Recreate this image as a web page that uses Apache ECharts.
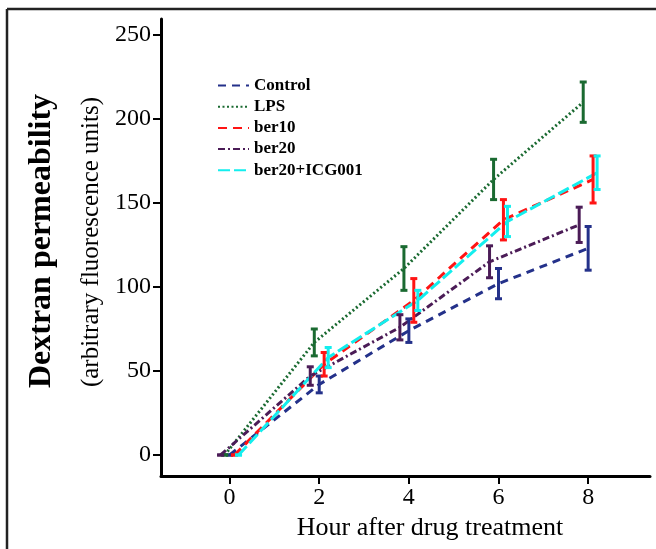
<!DOCTYPE html>
<html>
<head>
<meta charset="utf-8">
<script src="https://cdn.jsdelivr.net/npm/echarts@6/dist/echarts.min.js"></script>
<style>
  html, body { margin: 0; padding: 0; background: #fff; }
  #chart-container { width: 656px; height: 549px; }
</style>
</head>
<body>
<div id="chart-container"></div>
<script>
// data
var hours = [0, 2, 4, 6, 8];
var seriesNames = ['Control', 'LPS', 'ber10', 'ber20', 'ber20+ICG001'];
var controlMean = [0, 42, 74, 102, 123];
var controlErr  = [0, 5, 7, 9, 13];
var lpsMean     = [0, 67, 111, 164, 210];
var lpsErr      = [0, 8, 13, 12, 12];
var ber10Mean   = [0, 54, 92, 140, 164];
var ber10Err    = [0, 7, 13, 12, 14];
var ber20Mean   = [0, 47, 76, 115, 137];
var ber20Err    = [0, 5.5, 7.5, 9.5, 10.5];
var icgMean     = [0, 58, 92, 139, 168];
var icgErr      = [0, 6, 6, 9, 10];
var yTicks = [0, 50, 100, 150, 200, 250];
var xTicks = [0, 2, 4, 6, 8];

var dom = document.getElementById('chart-container');
var myChart = echarts.init(dom, null, { renderer: 'canvas' });

var font = 'Liberation Serif, Times New Roman, serif';

// small horizontal dodge so the error bars don't sit on top of each other
var looks = [
  { mean: controlMean, err: controlErr, color: '#24318a', dash: [8, 6],        shift: 0 },
  { mean: lpsMean,     err: lpsErr,     color: '#1a6a31', dash: [2, 2.5],      shift: -0.11 },
  { mean: ber10Mean,   err: ber10Err,   color: '#ff1414', dash: [9, 6],        shift: 0.11 },
  { mean: ber20Mean,   err: ber20Err,   color: '#4b1c57', dash: [7, 3, 2, 3],  shift: -0.2 },
  { mean: icgMean,     err: icgErr,     color: '#13eeee', dash: [12, 4],       shift: 0.2 }
];

function errBar(params, api) {
  var x = api.value(0), m = api.value(1), e = api.value(2);
  var top = api.coord([x, m + e]);
  var bot = api.coord([x, m - e]);
  var w = 3.5;
  var st = { stroke: api.visual('color'), lineWidth: 3 };
  return {
    type: 'group',
    children: [
      { type: 'line', shape: { x1: top[0], y1: top[1], x2: bot[0], y2: bot[1] }, style: st },
      { type: 'line', shape: { x1: top[0] - w, y1: top[1], x2: top[0] + w, y2: top[1] }, style: st },
      { type: 'line', shape: { x1: bot[0] - w, y1: bot[1], x2: bot[0] + w, y2: bot[1] }, style: st }
    ]
  };
}

var series = [];
looks.forEach(function (s, i) {
  series.push({
    name: seriesNames[i],
    type: 'line',
    symbol: 'none',
    showSymbol: false,
    color: s.color,
    lineStyle: { color: s.color, width: 3, type: s.dash },
    data: hours.map(function (h, k) { return [h + s.shift, s.mean[k]]; }),
    z: 2
  });
});
looks.forEach(function (s, i) {
  series.push({
    name: seriesNames[i] + ' SE',
    type: 'custom',
    color: s.color,
    renderItem: errBar,
    encode: { x: 0, y: 1 },
    data: hours.map(function (h, k) { return [h + s.shift, s.mean[k], s.err[k]]; }),
    z: 3
  });
});

var option = {
  animation: false,
  backgroundColor: '#ffffff',
  grid: { left: 161, right: 6, top: 19, bottom: 73 },
  legend: {
    data: seriesNames,
    orient: 'vertical',
    left: 212,
    top: 72,
    itemWidth: 31,
    itemHeight: 14,
    itemGap: 4.2,
    itemStyle: { opacity: 0 },
    textStyle: { fontFamily: font, fontWeight: 'bold', fontSize: 17, color: '#000' }
  },
  xAxis: {
    type: 'value',
    min: -1.53,
    max: 9.38,
    splitLine: { show: false },
    axisLine: { onZero: false, lineStyle: { color: '#000', width: 3 } },
    axisTick: { show: true, length: 8, lineStyle: { color: '#000', width: 2 }, customValues: xTicks },
    axisLabel: { customValues: xTicks, margin: 10, color: '#000', fontFamily: font, fontSize: 24 }
  },
  yAxis: {
    type: 'value',
    min: -12.5,
    max: 259.5,
    splitLine: { show: false },
    axisLine: { show: true, onZero: false, lineStyle: { color: '#000', width: 3 } },
    axisTick: { show: true, length: 8, lineStyle: { color: '#000', width: 2 }, customValues: yTicks },
    axisLabel: { customValues: yTicks, margin: 10, color: '#000', fontFamily: font, fontSize: 24 }
  },
  graphic: [
    { type: 'line', shape: { x1: 7, y1: 9, x2: 656, y2: 9 }, style: { stroke: '#222', lineWidth: 2.5 } },
    { type: 'line', shape: { x1: 7, y1: 9, x2: 7, y2: 549 }, style: { stroke: '#222', lineWidth: 2.5 } },
    {
      type: 'text', x: 430, y: 528,
      style: { text: 'Hour after drug treatment', font: '26px ' + font, fill: '#000', align: 'center', verticalAlign: 'middle' }
    },
    {
      type: 'text', x: 42, y: 241, rotation: Math.PI / 2,
      style: { text: 'Dextran permeability', font: 'bold 32px ' + font, fill: '#000', align: 'center', verticalAlign: 'middle' }
    },
    {
      type: 'text', x: 91, y: 242, rotation: Math.PI / 2,
      style: { text: '(arbitrary fluorescence units)', font: '25px ' + font, fill: '#000', align: 'center', verticalAlign: 'middle' }
    }
  ],
  series: series
};

myChart.setOption(option);
window.addEventListener('resize', myChart.resize);
</script>
</body>
</html>
